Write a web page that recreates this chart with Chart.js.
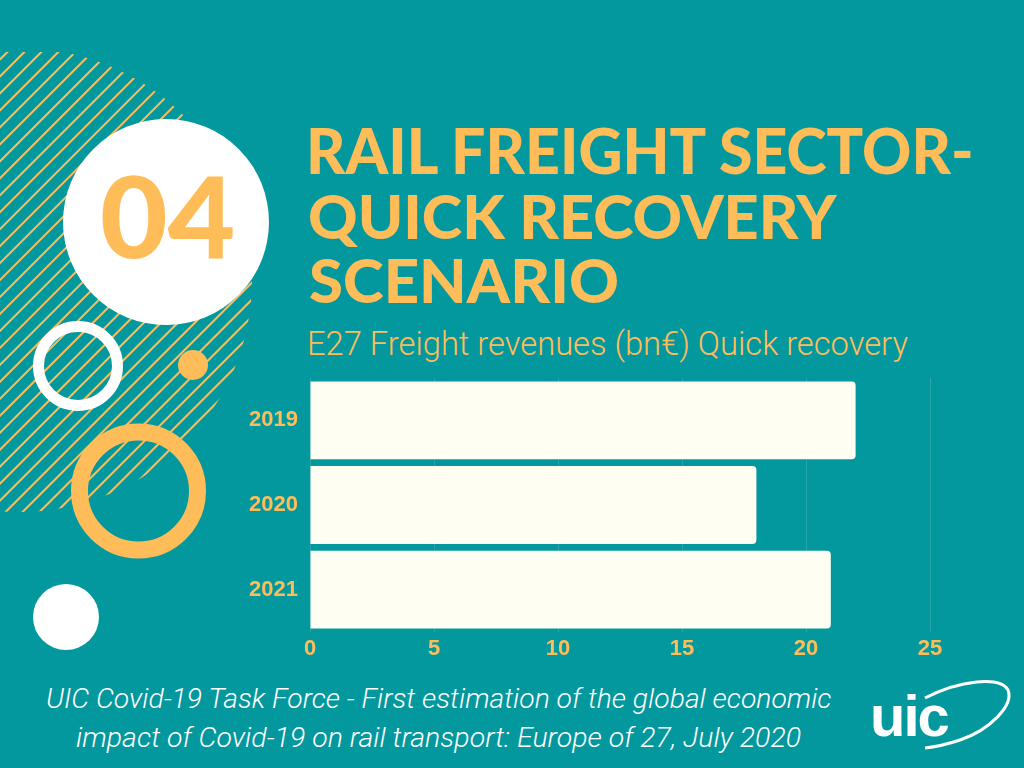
<!DOCTYPE html>
<html>
<head>
<meta charset="utf-8">
<script src="https://cdn.jsdelivr.net/npm/chart.js@4"></script>
<style>
  html, body { margin: 0; padding: 0; }
  body { width: 1024px; height: 768px; background: #03989E; position: relative; overflow: hidden; }
  .txt { position: absolute; white-space: nowrap; margin: 0; transform-origin: 0 0; }
  .title { font-family: Lato, "Open Sans", sans-serif; font-weight: 900; color: #FFBD59; }
  .sub { font-family: Roboto, sans-serif; font-weight: 300; color: #FFBD59; }
  .foot { font-family: Roboto, sans-serif; font-weight: 300; font-style: italic; color: #FFFFFF; }
  #deco { position: absolute; left: 0; top: 0; }
  #chartBox { position: absolute; left: 230px; top: 370px; width: 740px; height: 300px; }
</style>
</head>
<body>

<svg id="deco" width="1024" height="768" viewBox="0 0 1024 768">
  <defs>
    <pattern id="hatch" width="12" height="12" patternUnits="userSpaceOnUse" patternTransform="rotate(45)">
      <line x1="6" y1="-1" x2="6" y2="13" stroke="#FFBD59" stroke-width="2"/>
    </pattern>
    <clipPath id="blob"><circle cx="20" cy="280" r="232"/></clipPath>
  </defs>
  <rect x="0" y="52" width="270" height="470" fill="url(#hatch)" clip-path="url(#blob)"/>
  <circle cx="166" cy="222" r="103" fill="#FFFFFF"/>
  <circle cx="78" cy="366" r="39.5" fill="none" stroke="#FFFFFF" stroke-width="11"/>
  <circle cx="193" cy="365" r="15" fill="#FFBD59"/>
  <circle cx="138.5" cy="491" r="59" fill="none" stroke="#FFBD59" stroke-width="17"/>
  <circle cx="66" cy="617" r="33" fill="#FFFFFF"/>
  <!-- UIC logo -->
  <text x="870" y="736" font-family="Liberation Sans, Arial, sans-serif" font-weight="700" font-size="58" fill="#FFFFFF" letter-spacing="-2">uic</text>
  <path d="M925 698 C 960 680, 1000 676, 1008 690 C 1014 705, 990 730, 960 740 C 945 745, 935 747, 925 748" fill="none" stroke="#FFFFFF" stroke-width="3"/>
</svg>

<div id="n04" class="txt title">04</div>
<div id="t1" class="txt title">RAIL FREIGHT SECTOR-</div>
<div id="t2" class="txt title">QUICK RECOVERY</div>
<div id="t3" class="txt title">SCENARIO</div>
<div id="sub" class="txt sub">E27 Freight revenues (bn€) Quick recovery</div>
<div id="f1" class="txt foot">UIC Covid-19 Task Force - First estimation of the global economic</div>
<div id="f2" class="txt foot">impact of Covid-19 on rail transport: Europe of 27, July 2020</div>

<div id="chartBox"><canvas id="freightChart"></canvas></div>

<script>
// ===== Data =====
const years = ["2019", "2020", "2021"];
const revenues = [22, 18, 21];
const axisMax = 25;
const axisStep = 5;

const orange = "#FFBD59";
const cream = "#FFFEF2";

// ===== Text placement (fit each line into its box) =====
const meas = document.createElement("canvas").getContext("2d");

function placeText(id, left, baseline, width, cap) {
    const el = document.getElementById(id);
    const cs = getComputedStyle(el);
    const font = (size) => `${cs.fontStyle} ${cs.fontWeight} ${size}px ${cs.fontFamily}`;

    meas.font = font(100);
    const capH = meas.measureText("H").actualBoundingBoxAscent;
    const size = cap / capH * 100;

    meas.font = font(size);
    const m = meas.measureText(el.textContent);
    const ink = m.actualBoundingBoxLeft + m.actualBoundingBoxRight;
    const sx = width / ink;

    el.style.fontSize = size + "px";
    el.style.lineHeight = (m.fontBoundingBoxAscent + m.fontBoundingBoxDescent) + "px";
    el.style.top = (baseline - m.fontBoundingBoxAscent) + "px";
    el.style.left = (left + m.actualBoundingBoxLeft * sx) + "px";
    el.style.transform = `scaleX(${sx})`;
}

placeText("n04", 102, 258, 131, 82);
placeText("t1", 310, 174, 665, 46);
placeText("t2", 310, 239, 528, 45);
placeText("t3", 310, 303, 307, 44);
placeText("sub", 310, 355, 598, 24);
placeText("f1", 47, 708, 785, 20);
placeText("f2", 76, 747, 725, 20);

// ===== Bar Chart =====
const tickFont = { family: "Liberation Sans, Arial, sans-serif", size: 22, weight: "bold" };

new Chart(document.getElementById("freightChart"), {
    type: "bar",
    data: {
        labels: years,
        datasets: [{
            label: "Freight revenues (bn€)",
            data: revenues,
            backgroundColor: cream,
            barPercentage: 0.92,
            categoryPercentage: 1,
            borderRadius: 4,
            borderSkipped: "start"
        }]
    },
    options: {
        indexAxis: "y",
        responsive: true,
        maintainAspectRatio: false,
        animation: false,
        layout: { padding: { top: 8, right: 40, left: 0, bottom: 0 } },
        plugins: {
            legend: { display: false },
            tooltip: { enabled: false }
        },
        scales: {
            x: {
                min: 0,
                max: axisMax,
                ticks: { stepSize: axisStep, color: orange, font: tickFont, padding: 4 },
                grid: { color: "rgba(255,255,255,0.14)", drawTicks: false },
                border: { display: false },
                afterFit: (scale) => { scale.height = 38; }
            },
            y: {
                ticks: { color: orange, font: tickFont, padding: 12 },
                grid: { display: false, drawTicks: false },
                border: { display: false },
                afterFit: (scale) => {
                    scale.width = 80;
                    scale.paddingTop = 0;
                    scale.paddingBottom = 0;
                }
            }
        }
    }
});
</script>
</body>
</html>
